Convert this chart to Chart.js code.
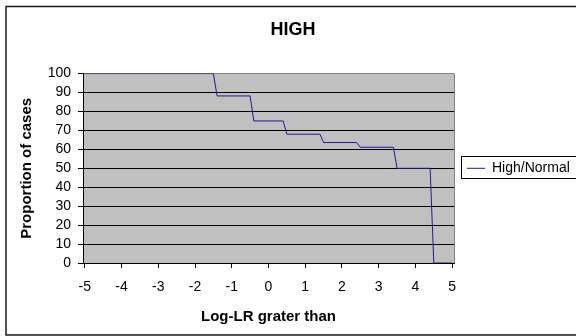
<!DOCTYPE html>
<html>
<head>
<meta charset="utf-8">
<script src="https://cdn.jsdelivr.net/npm/chart.js@4.4.1/dist/chart.umd.min.js"></script>
<style>
    html, body { margin: 0; padding: 0; background: #fff; }
    #wrap { width: 576px; height: 336px; }
</style>
</head>
<body>
<div id="wrap"><canvas id="chart" width="576" height="336"></canvas></div>
<script>
// Step points of the High/Normal curve
const logLR = [-5, -1.5, -1.4, -0.5, -0.4, 0.4, 0.5, 1.4, 1.5, 2.4, 2.5, 3.4, 3.5, 4.4, 4.5, 5];
const proportion = [100, 100, 88.2, 88.2, 75, 75, 68, 68, 63.6, 63.6, 61.1, 61.1, 50, 50, 0, 0];
const seriesName = 'High/Normal';
const chartTitle = 'HIGH';
const xTitle = 'Log-LR grater than';
const yTitle = 'Proportion of cases';

const FONT = "'Liberation Sans', Arial, sans-serif";
Chart.defaults.font.family = FONT;
Chart.defaults.color = '#000';

// Excel style plot area: gray fill, gray border, boxed legend, outer frame
const excelLook = {
    id: 'excelLook',
    beforeDraw(chart) {
        const { ctx, chartArea: a } = chart;
        ctx.save();
        ctx.fillStyle = '#fff';
        ctx.fillRect(0, 0, chart.width, chart.height);
        ctx.fillStyle = '#c0c0c0';
        ctx.fillRect(a.left, a.top, a.right - a.left, a.bottom - a.top);
        ctx.restore();
    },
    afterDraw(chart) {
        const { ctx, chartArea: a } = chart;
        ctx.save();
        ctx.strokeStyle = '#808080';
        ctx.lineWidth = 1;
        ctx.beginPath();
        ctx.moveTo(Math.round(a.right) + 0.5, a.top);
        ctx.lineTo(Math.round(a.right) + 0.5, a.bottom);
        ctx.stroke();

        const hb = chart.legend.legendHitBoxes[0];
        if (hb) {
            ctx.strokeStyle = '#000';
            const cy = hb.top + hb.height / 2;
            ctx.strokeRect(Math.round(hb.left) - 5.5, Math.round(cy) - 11.5, 200, 22);
        }

        ctx.strokeStyle = '#1a1a1a';
        ctx.lineWidth = 1.5;
        ctx.strokeRect(6, 6.5, 700, 328.5);
        ctx.restore();
    }
};

const data = logLR.map((x, i) => ({ x: x, y: proportion[i] }));

new Chart(document.getElementById('chart'), {
    type: 'line',
    data: {
        datasets: [{
            label: seriesName,
            data: data,
            borderColor: '#1c1c94',
            backgroundColor: '#1c1c94',
            borderWidth: 1,
            pointRadius: 0,
            tension: 0,
            fill: false
        }]
    },
    options: {
        responsive: false,
        animation: false,
        layout: { padding: { left: 10, right: 0, top: 0, bottom: 10 } },
        plugins: {
            title: {
                display: true,
                text: chartTitle,
                color: '#000',
                font: { size: 18, weight: 'bold' },
                padding: { top: 19, bottom: 33 }
            },
            legend: {
                position: 'right',
                fullSize: false,
                maxWidth: 122,
                labels: {
                    usePointStyle: true,
                    pointStyle: 'line',
                    pointStyleWidth: 18,
                    padding: 13,
                    color: '#000',
                    font: { size: 14 }
                }
            },
            tooltip: { enabled: false }
        },
        scales: {
            x: {
                type: 'linear',
                min: -5.05,
                max: 5.05,
                afterFit(scale) { scale.height = 63; },
                border: { color: '#000', width: 1 },
                grid: {
                    drawOnChartArea: false,
                    tickLength: 5,
                    tickColor: '#000'
                },
                ticks: {
                    stepSize: 1,
                    includeBounds: false,
                    autoSkip: false,
                    maxRotation: 0,
                    padding: 11,
                    color: '#000',
                    font: { size: 14 }
                },
                title: {
                    display: true,
                    text: xTitle,
                    color: '#000',
                    font: { size: 15, weight: 'bold' },
                    padding: { top: 0, bottom: 0 }
                }
            },
            y: {
                min: 0,
                max: 100,
                afterFit(scale) { scale.width = 73; },
                border: { color: '#000', width: 1 },
                grid: {
                    color: ctx => (ctx.tick && ctx.tick.value === 100) ? '#808080' : '#000',
                    tickColor: '#000',
                    tickLength: 5,
                    lineWidth: 1
                },
                ticks: {
                    stepSize: 10,
                    autoSkip: false,
                    padding: 7,
                    color: '#000',
                    font: { size: 14 }
                },
                title: {
                    display: true,
                    text: yTitle,
                    color: '#000',
                    font: { size: 15, weight: 'bold' },
                    padding: { top: 8, bottom: 0 }
                }
            }
        }
    },
    plugins: [excelLook]
});
</script>
</body>
</html>
